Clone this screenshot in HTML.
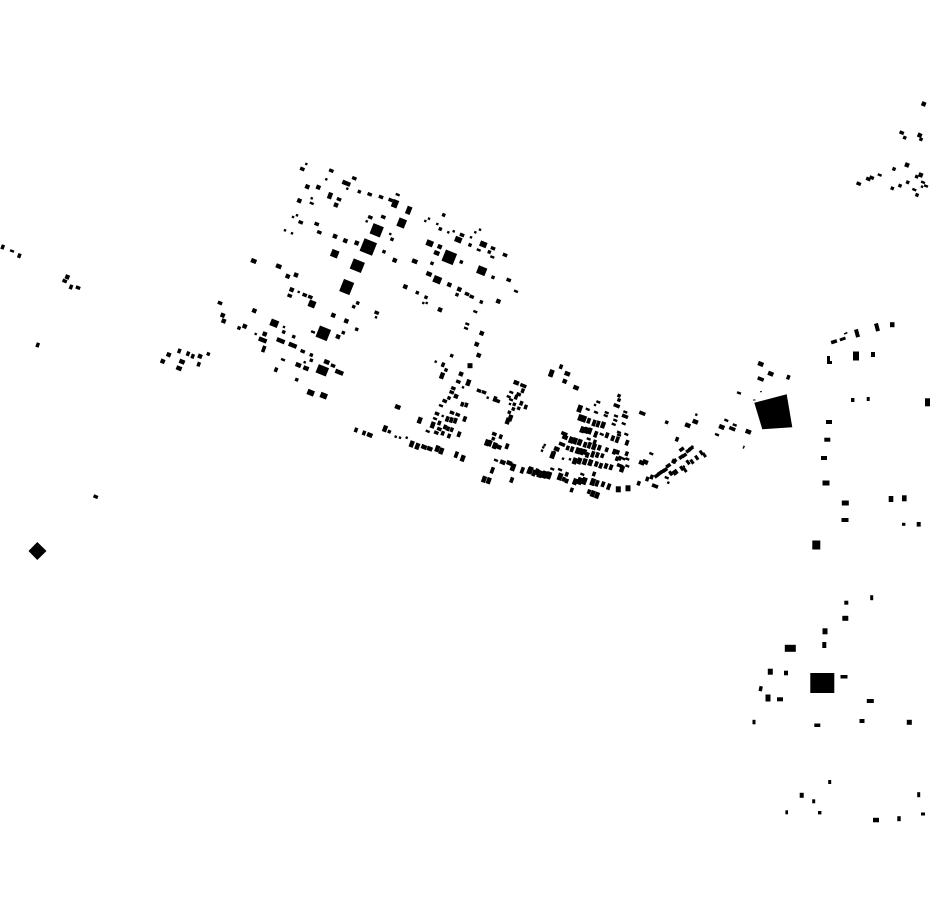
<!DOCTYPE html>
<html><head><meta charset="utf-8"><title>Building footprint map</title>
<style>
html,body{margin:0;padding:0;background:#fff}
svg{display:block}
polyline{fill:none;stroke:none}
marker{overflow:visible}
</style></head>
<body>
<svg xmlns="http://www.w3.org/2000/svg" width="930" height="924" viewBox="0 0 930 924">
<defs>
<marker id="s2" markerUnits="userSpaceOnUse" markerWidth="1" markerHeight="1" style="overflow:visible"><rect x="-1.2" y="-1.2" width="2.4" height="2.4" transform="rotate(22)"/></marker>
<marker id="s3" markerUnits="userSpaceOnUse" markerWidth="1" markerHeight="1" style="overflow:visible"><rect x="-1.7" y="-1.7" width="3.4" height="3.4" transform="rotate(22)"/></marker>
<marker id="s4" markerUnits="userSpaceOnUse" markerWidth="1" markerHeight="1" style="overflow:visible"><rect x="-2.2" y="-2.2" width="4.4" height="4.4" transform="rotate(22)"/></marker>
<marker id="a43" markerUnits="userSpaceOnUse" markerWidth="1" markerHeight="1" style="overflow:visible"><rect x="-2.3" y="-1.7" width="4.6" height="3.4" transform="rotate(22)"/></marker>
<marker id="a42" markerUnits="userSpaceOnUse" markerWidth="1" markerHeight="1" style="overflow:visible"><rect x="-2.1" y="-1.2" width="4.2" height="2.4" transform="rotate(22)"/></marker>
<marker id="a54" markerUnits="userSpaceOnUse" markerWidth="1" markerHeight="1" style="overflow:visible"><rect x="-2.8" y="-2.2" width="5.6" height="4.4" transform="rotate(22)"/></marker>
<marker id="a63" markerUnits="userSpaceOnUse" markerWidth="1" markerHeight="1" style="overflow:visible"><rect x="-3.2" y="-1.8" width="6.4" height="3.6" transform="rotate(22)"/></marker>
<marker id="a84" markerUnits="userSpaceOnUse" markerWidth="1" markerHeight="1" style="overflow:visible"><rect x="-4.2" y="-2.2" width="8.4" height="4.4" transform="rotate(22)"/></marker>
<marker id="a65" markerUnits="userSpaceOnUse" markerWidth="1" markerHeight="1" style="overflow:visible"><rect x="-3.5" y="-2.8" width="7" height="5.6" transform="rotate(22)"/></marker>
<marker id="b34" markerUnits="userSpaceOnUse" markerWidth="1" markerHeight="1" style="overflow:visible"><rect x="-1.7" y="-2.3" width="3.4" height="4.6" transform="rotate(20)"/></marker>
<marker id="b35" markerUnits="userSpaceOnUse" markerWidth="1" markerHeight="1" style="overflow:visible"><rect x="-1.8" y="-2.8" width="3.6" height="5.6" transform="rotate(20)"/></marker>
<marker id="b36" markerUnits="userSpaceOnUse" markerWidth="1" markerHeight="1" style="overflow:visible"><rect x="-1.8" y="-3.3" width="3.6" height="6.6" transform="rotate(20)"/></marker>
<marker id="b46" markerUnits="userSpaceOnUse" markerWidth="1" markerHeight="1" style="overflow:visible"><rect x="-2.2" y="-3.3" width="4.4" height="6.6" transform="rotate(20)"/></marker>
<marker id="b47" markerUnits="userSpaceOnUse" markerWidth="1" markerHeight="1" style="overflow:visible"><rect x="-2.4" y="-3.7" width="4.8" height="7.4" transform="rotate(20)"/></marker>
<marker id="r53" markerUnits="userSpaceOnUse" markerWidth="1" markerHeight="1" style="overflow:visible"><rect x="-2.6" y="-1.8" width="5.2" height="3.6" transform="rotate(-35)"/></marker>
<marker id="p53" markerUnits="userSpaceOnUse" markerWidth="1" markerHeight="1" style="overflow:visible"><rect x="-2.5" y="-1.5" width="5" height="3" transform="rotate(55)"/></marker>
</defs>
<g fill="#000">
<polyline style="marker:url(#s2)" points="306.3,164 326.3,179.3 347.3,188.7 425.3,221 429,218.7 437.3,224 448.3,232.3 453.7,231.3 471,237.3 475.3,232.3 480,229.7 293,217 297,215.3 285,230.3 292,233.3 366.7,221.3 390.3,234 423.3,303 426.7,303 284,327 255.7,334 304.7,362.3 435.7,361.7 463,387.3 442.7,416 487.7,397.7 395.7,436.7 400,437.7 406.7,437.7 544.7,445 543.3,447.3 542,450.7 298.7,292 696.3,414.7 510,404 595,405 922,186.7 554.3,452 563,458.7 570,459.3 683.7,466.7 692.3,446.7 668.3,482.7 376,317.3 311.7,198.3"/>
<polyline style="marker:url(#s3)" points="359.3,191.7 443.7,215 440.3,229 470,245 489.3,252 432,263.3 493,277.3 457,294.7 481.3,302 417.3,292.7 426,297.3 357.7,303 384,251.7 392,239.3 461.3,262 283.7,332 343.3,332.7 311.3,355 311.3,360.3 296.7,379.7 293.7,336.7 239,328 451.7,355.7 446,370 449,398 389.3,431.7 493.3,438.7 514.3,404.3 518.7,408.3 513.3,409 509.3,412.3 894,169 904.7,137.7 916.7,176.7 907.7,182.3 900,185.7 892.3,188.3 921,139.3 917,195 208.3,354 666.7,422.3 671,473.3 619,395.7 619,400 356.7,329.3 353.7,306.7"/>
<polyline style="marker:url(#s4)" points="335,236.3 345.3,240.7 356.7,243 394.7,260.3 405.3,286.7 449.3,284.7 459.3,289.3 439.7,246.7 498.3,301.3 440,309.7 481.7,333.3 476.7,344.3 478.7,355.3 333.3,315.3 346.3,321 338,336.7 222.7,315.3 223.7,321 244.7,326.3 254.3,310.7 287.7,276.3 296,275 291.7,289.7 264.7,334 461,374 456,396.3 907,165 923.7,104 168.7,354.7 162.7,361.3 200,356.3 67.3,277 920.7,175 919.7,135.3 564.7,381.3 674,461.3 336,205 299.3,200.7 307.3,186.7 318.3,187.3"/>
<polyline style="marker:url(#a43)" points="302.3,169 331.3,170.7 354.3,178.3 369.7,194.3 381,197 390.7,200 462,235 493,248.3 505,255 508.7,280 467,294 471.7,296.7 316.7,224 300.7,222.3 319.3,232.3 370.3,217.3 383.3,217 220,303 304.7,295 289.7,295.7 376.7,312.7 302.7,351.3 333,365.7 458.3,381.7 453.3,388.3 451.7,392.3 444.7,401 437,413.7 457.7,414.7 439.3,429 436.3,432.7 494.3,434 479,390.7 518.7,394.3 95.7,496.7 64.7,281 78,287.7 901.7,132.7 858.7,183.7 871.7,177.7 868.3,179 310.3,297 484,392.3 452,412.7 497.7,401 339,199.3"/>
<polyline style="marker:url(#a42)" points="397.7,194.7 478.7,250 492.3,257 516,291.3 475.3,311.7 467.3,324 466,328.3 313,332 283,359.7 441,405.7 435,418.7 427.7,431.3 587.7,409.3 606.7,412.7 605.7,415.7 616,416 615.3,420.3 613.7,424.3 625.3,412 623.7,423.7 619,432.3 619,435 626.3,434.3 552.3,469 560,469.7 582.3,474.3 923,182.3 926,186 914.3,189.7 879.7,175 12,251 651.3,453.7 739,393 726.3,420.3 717,434.7 734.7,425 666.7,477.7 623.3,458.7 627.3,459 627.3,466 598.3,402 596,412.3 601.7,434.3 588.7,439 511.3,392.3 508.7,396.7 511,399.7 496,460.3 311.7,203.3"/>
<polyline style="marker:url(#a54)" points="278.7,266.3 436.7,253 429,274 298.3,365 306,368.3 326.7,362 253.7,261 414.7,261.3 397.7,407 516.3,382.7 567.3,373.7 576,387.7 424,447 429.7,448.7 502.7,462.3 509.3,463 498.7,447 687.7,425.3 695.3,421.7 721.7,427 748.3,431.7 760.7,364 770.7,373.7 182,361.7 179,368.3 556.7,449 565,437.3 369.7,435 641.7,462.7 645.3,462"/>
<polyline style="marker:url(#a63)" points="523.3,385.7 564.3,433.7 562,444.3 616.7,405.7 642.3,413.3 625,416.3 620,465.7 655,486 760.7,379 732.3,428.7"/>
<polyline style="marker:url(#a65)" points="458.3,239.7 483.3,244.3 310.7,392.7 323.7,395.7"/>
<polyline style="marker:url(#a84)" points="262.7,340 280.7,340.7 339.3,372.3 346.3,183.3 292.7,345.3"/>
<polyline style="marker:url(#r53)" points="656.7,475.7 660,473 662.7,471.3 665,470 668.3,465.7 674.3,461 681.3,457 684.3,455.3 688.3,450.7 691,448.3 681.7,449.3"/>
<polyline style="marker:url(#p53)" points="670.7,473.3 674.3,473 676,471.7 681.7,468.3 685,470 688,462.3 692,461.7 696.7,457.7 701.3,452.7 704.3,455"/>
<polyline style="marker:url(#b34)" points="443,364.7 462.3,404.3 466.3,405 439.3,423 445,427 448,428.7 451.7,429.7 442.7,433.3 449,436 356,430 364,433 516,397.3 521.3,403.3 525.7,407 522.7,390.7 276,369.7 2.7,247 19.3,255.7 71,287 37.7,345 179.3,351 188,353.7 192.7,356.3 198.7,364.3 594.7,442 606.7,449.7 617.7,452.3 626.7,453.7 602.3,455.7 617,458.7 638.7,483.3 566.7,481 563.7,479.3 594,474 571.7,490 589,491.7 677,439.3 647.3,479 651.7,477 561,366.7 500.7,436.7 567.7,448 619.7,458.3 788.3,377.3 566.7,474.3"/>
<polyline style="marker:url(#b35)" points="464.7,419 447.3,419 451.3,420 455.3,420.7 459,434.3 495,399 588.7,420.7 607,435.3 612.7,438.3 627,442.7 585,444.7 599.3,447.7 614.3,451.7 572,449.3 584.7,452 587.3,455 597.3,455 596.3,464 600.7,465.7 606,466 611,467.3 603,484.3 511.7,480 507,446.3"/>
<polyline style="marker:url(#b36)" points="492.3,470.3 456.3,454.7 594,423 598,424 590,431 595.7,434.3 617.3,439.7 589.3,445.3 592.7,454.3 536.7,471.7 529,470.7 522.3,470.3 534,473 597,483.3 608.7,486.7 490,443.3 263.7,349"/>
<polyline style="marker:url(#b46)" points="432.7,425 411.7,444 417.3,446.3 437.3,448.7 441.3,451 462.7,458.3 385,428.7 487,442.7 494.7,445.7 484,479.3 488.7,480.7 468.3,382.7 442,375.7 584,419 580.3,417.7 603,425 582.3,429.7 586.3,430.3 571,440 575,441 579.7,442.3 594,446.7 577.7,450.7 581.7,451.7 574.7,461 579.3,461 584.7,461.7 590.3,462.7 622,469 545,474.3 540.3,474 549,475.7 575,481.7 592.7,493.7 597,495.3 419.7,420.3 510.3,418 507.7,421 330,195.7"/>
<polyline style="marker:url(#b47)" points="579.7,408.7 551.3,373.3 552.7,455 560,476.7 592.7,482 584.3,481 579.7,481 530.3,470.3 539.7,474 513,467.3 544.3,474.7 548.7,475.3"/>
<!-- larger buildings -->
<rect x="-3" y="-4" width="6" height="8" transform="translate(395 203.7) rotate(22)"/>
<rect x="-2.5" y="-4" width="5" height="8" transform="translate(408.7 210.3) rotate(22)"/>
<rect x="-4" y="-4.5" width="8" height="9" transform="translate(401.7 223) rotate(22)"/>
<rect x="-5.5" y="-5.5" width="11" height="11" transform="translate(376.7 230.3) rotate(22)"/>
<rect x="-6.7" y="-6.7" width="13.4" height="13.4" transform="translate(368.3 247) rotate(22)"/>
<rect x="-6" y="-6" width="12" height="12" transform="translate(449.3 257.3) rotate(22)"/>
<rect x="-6" y="-5.5" width="12" height="11" transform="translate(357.3 265.7) rotate(22)"/>
<rect x="-5.5" y="-6.5" width="11" height="13" transform="translate(346.7 287) rotate(22)"/>
<rect x="-6" y="-6" width="12" height="12" transform="translate(323.3 333.3) rotate(22)"/>
<rect x="-5.5" y="-4.5" width="11" height="9" transform="translate(322.3 370.3) rotate(22)"/>
<rect x="-4.5" y="-4" width="9" height="8" transform="translate(481.7 270.7) rotate(22)"/>
<rect x="-4" y="-3.5" width="8" height="7" transform="translate(274.3 323.3) rotate(22)"/>
<rect x="-3.5" y="-3.5" width="7" height="7" transform="translate(312 304) rotate(22)"/>
<rect x="-3.7" y="-3.7" width="7.4" height="7.4" transform="translate(334.7 253.7) rotate(22)"/>
<rect x="-3.5" y="-3" width="7" height="6" transform="translate(429.7 243.3) rotate(22)"/>
<rect x="-4" y="-3.5" width="8" height="7" transform="translate(437.3 279.7) rotate(22)"/>
<rect x="467.5" y="363.2" width="5" height="5"/>
<polygon points="754.3,402.7 786.7,394.3 792.3,427.3 762.3,429.3"/>
<polygon points="37.3,542 46.5,551 37.3,560 28.5,551"/>
<!-- right side, nearly axis-aligned -->
<rect x="831" y="340" width="6" height="3.5" transform="rotate(-18 834 341.7)"/>
<rect x="839.7" y="337.5" width="6" height="3" transform="rotate(-20 842.7 339)"/>
<rect x="844" y="332.5" width="3.5" height="1.6" transform="rotate(-25 845.7 333.3)"/>
<rect x="855" y="329.3" width="4" height="8" transform="rotate(-15 857 333.3)"/>
<rect x="875" y="323.3" width="4" height="8" transform="rotate(-15 877 327.3)"/>
<rect x="890" y="322.2" width="4.5" height="5"/>
<rect x="827" y="356" width="3" height="8"/><rect x="827" y="361" width="5" height="3"/>
<rect x="853" y="351.5" width="6" height="9"/>
<rect x="871" y="352" width="4" height="5"/>
<rect x="851" y="398" width="3.4" height="4"/>
<rect x="866.7" y="397" width="3" height="4"/>
<rect x="925" y="398.3" width="5" height="8"/>
<rect x="826" y="420" width="6" height="4"/>
<rect x="824.3" y="437.7" width="6" height="4"/>
<rect x="821" y="456" width="6" height="4"/>
<rect x="822.5" y="480.5" width="7" height="5"/>
<rect x="841.8" y="500.5" width="7" height="5"/>
<rect x="841.5" y="518" width="7" height="4"/>
<rect x="888.7" y="496" width="4.6" height="6"/>
<rect x="902" y="495.3" width="4.6" height="6"/>
<rect x="902" y="522.8" width="3.4" height="3"/>
<rect x="916.7" y="522" width="4" height="4.6"/>
<rect x="812.3" y="540.5" width="8" height="9"/>
<rect x="870.2" y="595.2" width="3" height="5"/>
<rect x="844.3" y="600.7" width="4" height="4"/>
<rect x="842.3" y="615.8" width="6" height="5"/>
<rect x="822.5" y="628.3" width="5" height="6"/>
<rect x="822.3" y="642" width="4" height="6"/>
<rect x="784.8" y="644.8" width="11" height="7"/>
<rect x="767.8" y="668.7" width="5" height="6"/>
<rect x="784" y="670.7" width="4" height="4.6"/>
<rect x="810.3" y="673" width="24" height="20"/>
<rect x="840.5" y="675" width="7" height="3.5"/>
<rect x="759" y="686.2" width="3.4" height="5" transform="rotate(12 760.7 688.7)"/>
<rect x="765.5" y="694.5" width="5" height="7"/>
<rect x="777" y="697.3" width="6" height="4"/>
<rect x="866.8" y="699" width="7" height="4"/>
<rect x="859.5" y="719" width="5" height="4"/>
<rect x="814.3" y="723.5" width="6" height="3.5"/>
<rect x="906.8" y="719.8" width="5" height="5"/>
<rect x="752.5" y="719.8" width="3" height="4.5"/>
<rect x="828.2" y="780" width="3" height="4"/>
<rect x="799.7" y="792.8" width="4" height="5"/>
<rect x="812.2" y="799.3" width="3" height="4"/>
<rect x="785.4" y="810.3" width="2.6" height="4"/>
<rect x="818" y="811" width="3.4" height="3.4"/>
<rect x="917.2" y="792.2" width="3" height="5"/>
<rect x="921" y="812.5" width="4" height="3"/>
<rect x="873" y="817.8" width="6" height="4.5"/>
<rect x="897.3" y="816.2" width="3.4" height="5"/>
<rect x="615.8" y="486.3" width="5" height="6"/>
<rect x="625.5" y="485.3" width="5" height="6"/>
<rect x="743" y="445.5" width="1.5" height="3" transform="rotate(20 743.3 447)"/>
<rect x="760" y="391.2" width="2" height="1"/>
<rect x="753" y="399.5" width="2.5" height="1"/>
</g>
</svg>
</body></html>
